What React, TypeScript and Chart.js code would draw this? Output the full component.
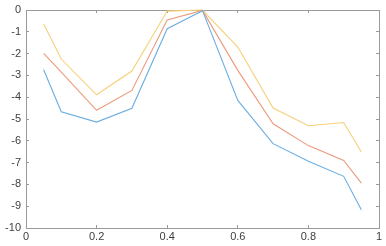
import React, { useEffect, useRef } from "react";
import { Chart, registerables } from "chart.js";

Chart.register(...registerables);

const xValues = [0.05, 0.1, 0.2, 0.3, 0.4, 0.5, 0.6, 0.7, 0.8, 0.9, 0.95];
const seriesBlue = [-2.74, -4.67, -5.14, -4.51, -0.86, -0.03, -4.15, -6.13, -6.94, -7.63, -9.16];
const seriesOrange = [-1.99, -2.85, -4.6, -3.69, -0.46, -0.02, -2.77, -5.22, -6.22, -6.9, -7.94];
const seriesYellow = [-0.64, -2.25, -3.89, -2.8, -0.05, 0, -1.7, -4.5, -5.31, -5.16, -6.51];
const xTicks = [0, 0.2, 0.4, 0.6, 0.8, 1];
const yTicks = [0, -1, -2, -3, -4, -5, -6, -7, -8, -9, -10];

const toPoints = (ys: number[]) => xValues.map((x, i) => ({ x, y: ys[i] }));

const AXIS_COLOR = "#9a9a9a";
const FONT = { family: "Liberation Sans, Arial, sans-serif", size: 11 };

const gridOpts = {
  display: true,
  drawOnChartArea: false,
  drawTicks: true,
  tickLength: -3,
  color: AXIS_COLOR,
  lineWidth: 1,
};
const borderOpts = { display: true, color: AXIS_COLOR, width: 1 };

export default function App() {
  const ref = useRef<HTMLCanvasElement>(null);
  useEffect(() => {
    if (!ref.current) return;
    const mk = (label: string, data: number[], color: string) => ({
      label,
      data: toPoints(data),
      borderColor: color,
      backgroundColor: color,
      borderWidth: 1.1,
      pointRadius: 0,
      showLine: true,
      tension: 0,
      clip: 2,
    });
    const xAxis = (position: string, labels: boolean, h: number) => ({
      type: "linear",
      position,
      min: 0,
      max: 1,
      afterBuildTicks: (s: any) => {
        s.ticks = xTicks.map((v) => ({ value: v }));
      },
      afterFit: (s: any) => {
        s.height = h;
        s.paddingLeft = 0;
        s.paddingRight = 0;
        s.paddingTop = 0;
        s.paddingBottom = 0;
      },
      grid: gridOpts,
      border: borderOpts,
      ticks: {
        display: labels,
        padding: 5,
        color: "#404040",
        font: FONT,
        maxRotation: 0,
        callback: (v: any) => String(Math.round(Number(v) * 10) / 10),
      },
    });
    const yAxis = (position: string, labels: boolean, w: number) => ({
      type: "linear",
      position,
      min: -10,
      max: 0,
      afterBuildTicks: (s: any) => {
        s.ticks = yTicks.map((v) => ({ value: v }));
      },
      afterFit: (s: any) => {
        s.width = w;
        s.paddingLeft = 0;
        s.paddingRight = 0;
        s.paddingTop = 0;
        s.paddingBottom = 0;
      },
      grid: gridOpts,
      border: borderOpts,
      ticks: {
        display: labels,
        padding: 8,
        color: "#404040",
        font: FONT,
        callback: (v: any) => String(v),
      },
    });
    const chart = new Chart(ref.current, {
      type: "scatter",
      data: {
        datasets: [
          mk("1", seriesBlue, "#6badE2"),
          mk("2", seriesOrange, "#ec9a7c"),
          mk("3", seriesYellow, "#f6cf78"),
        ],
      },
      options: {
        animation: false,
        responsive: false,
        maintainAspectRatio: false,
        layout: { padding: { left: 0, right: 7, top: 10, bottom: 0 } },
        plugins: { legend: { display: false }, tooltip: { enabled: false } },
        scales: {
          x: xAxis("bottom", true, 18),
          x2: xAxis("top", false, 0),
          y: yAxis("left", true, 26),
          y2: yAxis("right", false, 0),
        } as any,
      },
    });
    return () => chart.destroy();
  }, []);
  return (
    <div style={{ position: "fixed", left: 0, top: 0, width: 386, height: 246, background: "#fff" }}>
      <canvas ref={ref} width={386} height={246} style={{ width: 386, height: 246, display: "block" }} />
    </div>
  );
}
